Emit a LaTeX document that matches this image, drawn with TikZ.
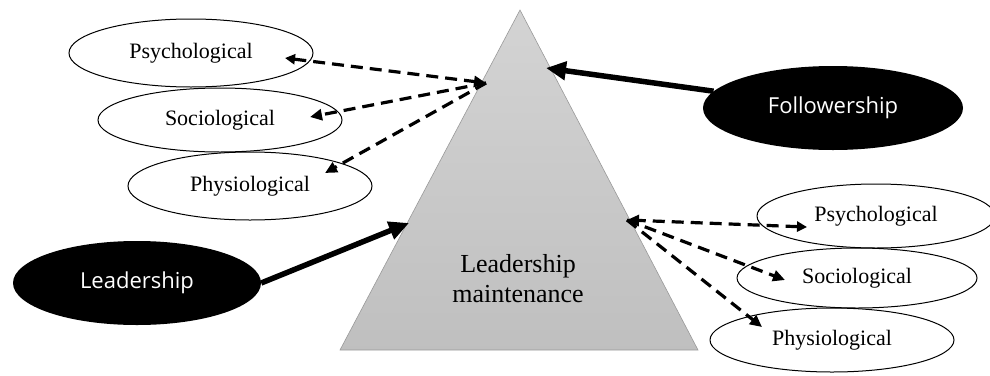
\documentclass[tikz,border=0pt]{standalone}
\usepackage{fontspec}
\setmainfont{Liberation Serif}
\newfontfamily\labelsans{Open Sans}
\usetikzlibrary{shapes.geometric,arrows.meta,calc}

\begin{document}
\begin{tikzpicture}[x=1pt,y=-1pt,
  aspect/.style={draw, line width=1pt, ellipse, inner sep=0pt,
    font=\fontsize{22}{24}\selectfont},
  driver/.style={fill=black, ellipse, inner sep=0pt, text=white,
    font=\labelsans\fontsize{22}{24}\selectfont},
  link/.style={dash pattern=on 12pt off 7pt, line width=3.2pt,
    -{Triangle[length=12pt,width=11pt]}},
  twolink/.style={link, {Triangle[length=10pt,width=10pt]}-{Triangle[length=12pt,width=11pt]}},
  push/.style={line width=5.5pt, -{Triangle[length=20pt,width=18pt]}}]

\useasboundingbox (0,0) rectangle (990,375);

% central pyramid
\coordinate (apex) at (520,10);
\coordinate (baseL) at (340,350);
\coordinate (baseR) at (698,350);
\shade[top color=black!17, bottom color=black!25] (apex) -- (baseR) -- (baseL) -- cycle;
\draw[black!40, line width=0.6pt] (apex) -- (baseR) -- (baseL) -- cycle;
\node[font=\fontsize{26}{30}\selectfont, align=center] (core) at (518,279) {Leadership\\maintenance};

% attachment points on the pyramid
\coordinate (hubL) at (486,83);
\coordinate (hubR) at (627,220);
\coordinate (leadTip) at (409,223);
\coordinate (followTip) at (546,68);

% aspects on the left
\node[aspect, minimum width=244pt, minimum height=68pt] (psyL) at (191,53) {Psychological};
\node[aspect, minimum width=244pt, minimum height=64pt] (socL) at (220,120) {Sociological};
\node[aspect, minimum width=244pt, minimum height=68pt] (phyL) at (250,186) {Physiological};

% aspects on the right
\node[aspect, minimum width=238pt, minimum height=64pt] (psyR) at (876,216) {Psychological};
\node[aspect, minimum width=240pt, minimum height=60pt] (socR) at (857,278) {Sociological};
\node[aspect, minimum width=244pt, minimum height=64pt] (phyR) at (832,340) {Physiological};

% driving forces
\node[driver, minimum width=248pt, minimum height=84pt] (lead) at (137,283) {Leadership};
\node[driver, minimum width=260pt, minimum height=84pt] (follow) at (833,108) {Followership};

% arrow ends inside the aspect ellipses
\coordinate (psyLtip) at ($(psyL.center)+(94,5)$);
\coordinate (socLtip) at ($(socL.center)+(90,-3)$);
\coordinate (phyLtip) at ($(phyL.center)+(75,-13)$);
\coordinate (psyRtip) at ($(psyR.center)+(-69,11)$);
\coordinate (socRtip) at ($(socR.center)+(-72,2)$);
\coordinate (phyRtip) at ($(phyR.center)+(-70,-13)$);

% thick driving arrows
\draw[push] (lead.east) -- (leadTip);
\draw[push] (follow.172) -- (followTip);

% dashed links
\draw[twolink] (psyLtip) -- (hubL);
\draw[link] (hubL) -- (socLtip);
\draw[link] (hubL) -- (phyLtip);
\draw[twolink] (psyRtip) -- (hubR);
\draw[link] (hubR) -- (socRtip);
\draw[link] (hubR) -- (phyRtip);
\end{tikzpicture}
\end{document}
